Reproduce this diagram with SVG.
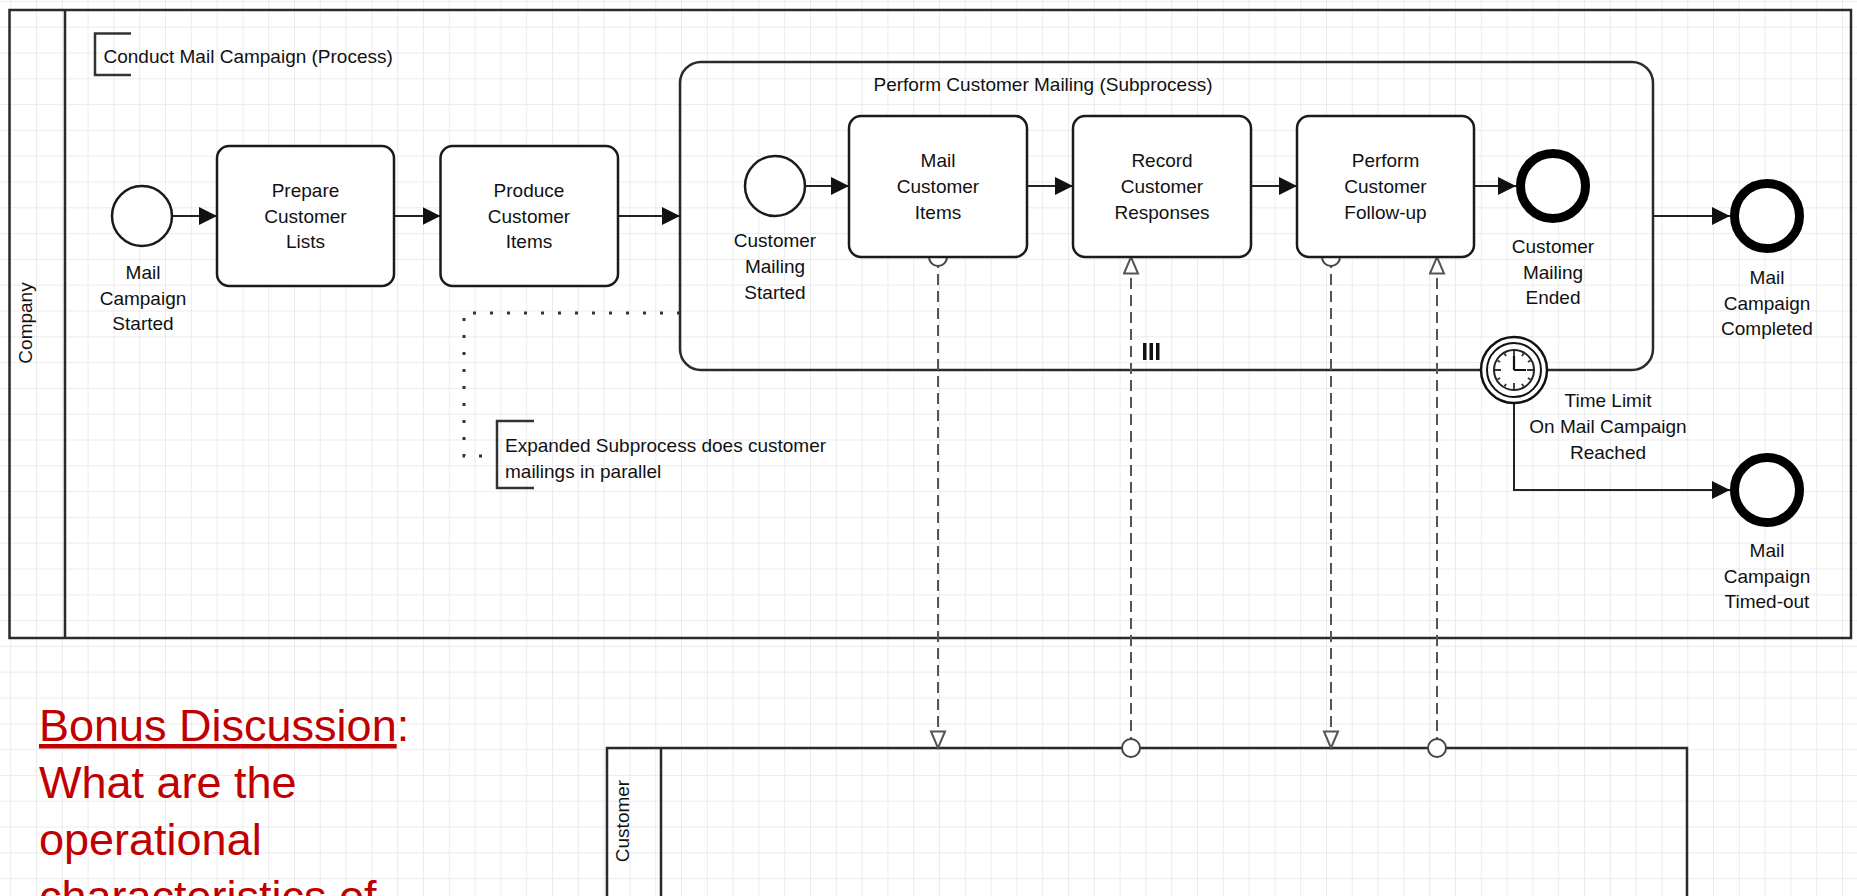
<svg xmlns="http://www.w3.org/2000/svg" width="1857" height="896" viewBox="0 0 1857 896">
<defs>
<pattern id="grid" x="36" y="26.7" width="25.8" height="25.8" patternUnits="userSpaceOnUse">
<path d="M0,0 H25.8 M0,0 V25.8" fill="none" stroke="#dadada" stroke-width="1"/>
</pattern>
<marker id="arr" markerUnits="userSpaceOnUse" markerWidth="18" markerHeight="18" refX="18" refY="9" orient="auto">
<path d="M0,0 L18,9 L0,18 z" fill="#111"/>
</marker>
<marker id="open" markerUnits="userSpaceOnUse" markerWidth="20" markerHeight="18" refX="18" refY="8.5" orient="auto">
<path d="M1.5,1.5 L18,8.5 L1.5,15.5 z" fill="#fff" stroke="#555" stroke-width="2"/>
</marker>
</defs>
<style>
.t{font-family:"Liberation Sans",Arial,sans-serif;font-size:19px;fill:#111;}
.c{text-anchor:middle;}
.pool{fill:none;stroke:#2a2a2a;stroke-width:2.5;}
.task{fill:#fff;stroke:#1a1a1a;stroke-width:2.5;}
.start{fill:#fff;stroke:#1a1a1a;stroke-width:2.5;}
.end{fill:#fff;stroke:#000;stroke-width:9;}
.flow{fill:none;stroke:#222;stroke-width:2;}
.msg{fill:none;stroke:#555;stroke-width:2;stroke-dasharray:11 6;}
.msrc{fill:#fff;stroke:#444;stroke-width:2;}
.brk{fill:none;stroke:#333;stroke-width:2.5;}
.bonus{font-family:"Liberation Sans",Arial,sans-serif;font-size:45px;fill:#c00000;}
</style>
<rect x="0" y="0" width="1857" height="896" fill="#fff"/>
<rect x="0" y="0" width="1857" height="896" fill="url(#grid)"/>

<g id="pool-company">
<rect class="pool" x="9.5" y="10" width="1841.5" height="628"/>
<line class="pool" x1="65" y1="10" x2="65" y2="638"/>
<text class="t c" font-size="18.5" transform="translate(32,323) rotate(-90)">Company</text>
</g>

<g id="pool-customer">
<rect class="pool" x="607" y="748" width="1080" height="200"/>
<line class="pool" x1="661" y1="748" x2="661" y2="900"/>
<text class="t c" font-size="18.5" transform="translate(629,821) rotate(-90)">Customer</text>
</g>

<g id="subprocess">
<rect class="pool" x="680" y="62" width="973" height="308" rx="21" ry="21" fill="none"/>
<text class="t c" x="1043" y="90.5">Perform Customer Mailing (Subprocess)</text>
<rect x="1143" y="343" width="3.5" height="17" fill="#111"/>
<rect x="1149.5" y="343" width="3.5" height="17" fill="#111"/>
<rect x="1156" y="343" width="3.5" height="17" fill="#111"/>
</g>

<g id="annotation-process">
<path class="brk" d="M131,33.5 H95 V75 H131"/>
<text class="t" x="103.5" y="63">Conduct Mail Campaign (Process)</text>
</g>

<g id="connectors">
<path class="flow" d="M172,216 H217" marker-end="url(#arr)"/>
<path class="flow" d="M394,216 H440.5" marker-end="url(#arr)"/>
<path class="flow" d="M618,216 H680" marker-end="url(#arr)"/>
<path class="flow" d="M805,186 H849" marker-end="url(#arr)"/>
<path class="flow" d="M1027,186 H1073" marker-end="url(#arr)"/>
<path class="flow" d="M1251,186 H1297" marker-end="url(#arr)"/>
<path class="flow" d="M1474,186 H1516" marker-end="url(#arr)"/>
<path class="flow" d="M1653,216 H1730" marker-end="url(#arr)"/>
<path class="flow" d="M1514,403 V490 H1730" marker-end="url(#arr)"/>
<path d="M680,313 H464 V456 H497" fill="none" stroke="#333" stroke-width="3" stroke-dasharray="3 14"/>
<path class="msg" d="M938,257 V748" marker-end="url(#open)"/>
<path class="msg" d="M1131,748 V257" marker-end="url(#open)"/>
<path class="msg" d="M1331,257 V748" marker-end="url(#open)"/>
<path class="msg" d="M1437,748 V257" marker-end="url(#open)"/>
<circle class="msrc" cx="938" cy="257" r="9"/>
<circle class="msrc" cx="1131" cy="748" r="9"/>
<circle class="msrc" cx="1331" cy="257" r="9"/>
<circle class="msrc" cx="1437" cy="748" r="9"/>
</g>

<g id="start-mail-campaign">
<circle class="start" cx="142" cy="216" r="30"/>
<text class="t c" x="143" y="278.5">Mail</text>
<text class="t c" x="143" y="304.5">Campaign</text>
<text class="t c" x="143" y="330">Started</text>
</g>

<g id="task-prepare-lists">
<rect class="task" x="217" y="146" width="177" height="140" rx="12" ry="12"/>
<text class="t c" x="305.5" y="197">Prepare</text>
<text class="t c" x="305.5" y="222.5">Customer</text>
<text class="t c" x="305.5" y="247.5">Lists</text>
</g>

<g id="task-produce-items">
<rect class="task" x="440.5" y="146" width="177.5" height="140" rx="12" ry="12"/>
<text class="t c" x="529" y="197">Produce</text>
<text class="t c" x="529" y="222.5">Customer</text>
<text class="t c" x="529" y="247.5">Items</text>
</g>

<g id="start-customer-mailing">
<circle class="start" cx="775" cy="186" r="30"/>
<text class="t c" x="775" y="247">Customer</text>
<text class="t c" x="775" y="273">Mailing</text>
<text class="t c" x="775" y="298.5">Started</text>
</g>

<g id="task-mail-items">
<rect class="task" x="849" y="116" width="178" height="141" rx="12" ry="12"/>
<text class="t c" x="938" y="167">Mail</text>
<text class="t c" x="938" y="193">Customer</text>
<text class="t c" x="938" y="218.5">Items</text>
</g>

<g id="task-record-responses">
<rect class="task" x="1073" y="116" width="178" height="141" rx="12" ry="12"/>
<text class="t c" x="1162" y="167">Record</text>
<text class="t c" x="1162" y="193">Customer</text>
<text class="t c" x="1162" y="218.5">Responses</text>
</g>

<g id="task-follow-up">
<rect class="task" x="1297" y="116" width="177" height="141" rx="12" ry="12"/>
<text class="t c" x="1385.5" y="167">Perform</text>
<text class="t c" x="1385.5" y="193">Customer</text>
<text class="t c" x="1385.5" y="218.5">Follow-up</text>
</g>

<g id="end-customer-mailing">
<circle class="end" cx="1553" cy="186" r="32.5"/>
<text class="t c" x="1553" y="253">Customer</text>
<text class="t c" x="1553" y="278.5">Mailing</text>
<text class="t c" x="1553" y="304">Ended</text>
</g>

<g id="end-mail-completed">
<circle class="end" cx="1767" cy="216" r="32.5"/>
<text class="t c" x="1767" y="284">Mail</text>
<text class="t c" x="1767" y="309.5">Campaign</text>
<text class="t c" x="1767" y="335">Completed</text>
</g>

<g id="timer-boundary">
<circle cx="1514" cy="370" r="33" fill="#fff" stroke="#111" stroke-width="2.5"/>
<circle cx="1514" cy="370" r="27" fill="none" stroke="#111" stroke-width="2"/>
<circle cx="1514" cy="370" r="20" fill="#fff" stroke="#222" stroke-width="2"/>
<path d="M1514,357 V351 M1527,370 H1533 M1514,383 V389 M1501,370 H1495 M1522,356.1 L1523.5,353.5 M1527.9,362 L1530.5,360.5 M1527.9,378 L1530.5,379.5 M1522,383.9 L1523.5,386.5 M1506,383.9 L1504.5,386.5 M1500.1,378 L1497.5,379.5 M1500.1,362 L1497.5,360.5 M1506,356.1 L1504.5,353.5" stroke="#333" stroke-width="1.8" fill="none"/>
<path d="M1514,370 V356 M1514,370 H1526" stroke="#111" stroke-width="2.2" fill="none"/>
<text class="t c" x="1608" y="407">Time Limit</text>
<text class="t c" x="1608" y="433">On Mail Campaign</text>
<text class="t c" x="1608" y="459">Reached</text>
</g>

<g id="end-mail-timed-out">
<circle class="end" cx="1767" cy="490" r="32.5"/>
<text class="t c" x="1767" y="557">Mail</text>
<text class="t c" x="1767" y="582.5">Campaign</text>
<text class="t c" x="1767" y="608">Timed-out</text>
</g>

<g id="annotation-parallel">
<path class="brk" d="M534,421 H497 V488 H534"/>
<text class="t" x="505" y="451.5">Expanded Subprocess does customer</text>
<text class="t" x="505" y="477.5">mailings in parallel</text>
</g>

<g id="bonus-discussion">
<text class="bonus" x="39" y="741"><tspan text-decoration="underline">Bonus Discussion</tspan>:</text>
<text class="bonus" x="39" y="798">What are the</text>
<text class="bonus" x="39" y="855">operational</text>
<text class="bonus" x="39" y="912">characteristics of</text>
</g>
</svg>
